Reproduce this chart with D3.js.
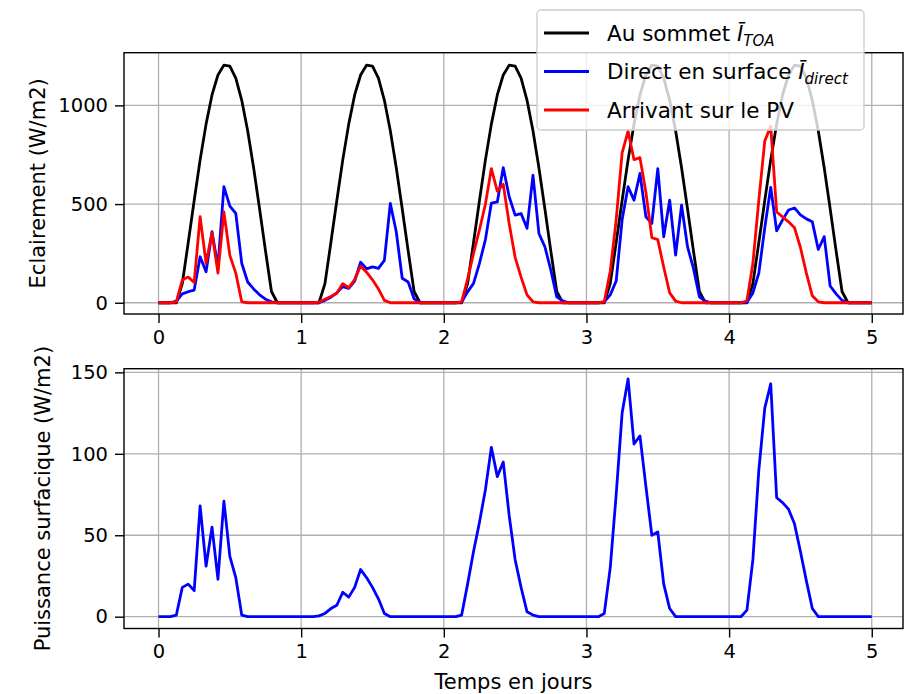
<!DOCTYPE html>
<html>
<head>
<meta charset="utf-8">
<script src="https://cdn.jsdelivr.net/npm/d3@7"></script>
<style>
  body { margin: 0; background: #fff; }
  text { font-family: "DejaVu Sans", sans-serif; }
</style>
</head>
<body>
<div id="chart"></div>
<script>
// hourly samples (24 per day), 5 days + last point at t = 5
const xTicks = [0, 1, 2, 3, 4, 5];
const yTicksTop = [0, 500, 1000];
const yTicksBottom = [0, 50, 100, 150];

// irradiance at top of atmosphere (W/m2)
const toa = [
  0,0,0,0,97,305,518,724,905,1053,1154,1204,1199,1138,1026,872,684,476,263,57,0,0,0,0,
  0,0,0,0,97,305,518,724,905,1053,1154,1204,1199,1138,1026,872,684,476,263,57,0,0,0,0,
  0,0,0,0,97,305,518,724,905,1053,1154,1204,1199,1138,1026,872,684,476,263,57,0,0,0,0,
  0,0,0,0,97,305,518,724,905,1053,1154,1204,1199,1138,1026,872,684,476,263,57,0,0,0,0,
  0,0,0,0,97,305,518,724,905,1053,1154,1204,1199,1138,1026,872,684,476,263,57,0,0,0,0,
  0
];
// direct at surface
const direct = [
  0,0,0,8,45,56,64,233,157,360,182,588,490,453,200,105,70,40,18,5,0,0,0,0,
  0,0,0,0,12,28,50,82,73,110,205,172,182,174,215,503,360,124,105,20,0,0,0,0,
  0,0,0,3,55,98,200,320,505,511,685,537,444,452,377,647,351,284,166,30,10,0,0,0,
  0,0,0,5,40,110,420,588,520,655,436,402,680,334,520,242,495,284,174,30,8,0,0,0,
  0,0,0,2,50,150,380,585,365,420,470,480,445,425,410,270,335,85,45,12,0,0,0,0,
  0
];
// arriving on the PV panel
const pv = [
  0,0,0,5,116,130,103,436,200,355,150,460,240,150,5,0,0,0,0,0,0,0,0,0,
  0,0,0,3,18,32,48,97,77,117,186,155,116,70,12,0,0,0,0,0,0,0,0,0,
  0,0,0,5,120,250,370,500,680,565,600,400,230,130,40,5,0,0,0,0,0,0,0,0,
  0,0,0,5,160,420,760,870,725,735,560,330,320,180,50,8,0,0,0,0,0,0,0,0,
  0,0,0,10,200,520,820,895,460,435,410,380,280,150,35,5,0,0,0,0,0,0,0,0,
  0
];
// surface power (W/m2)
const power = [
  0,0,0,1,18,20,16,68,31,55,23,71,37,24,1,0,0,0,0,0,0,0,0,0,
  0,0,0,0.5,2,5,7,15,12,18,29,24,18,11,2,0,0,0,0,0,0,0,0,0,
  0,0,0,1,20,40,58,78,104,86,95,62,35,18,3,1,0,0,0,0,0,0,0,0,
  0,0,0,2,30,75,125,146,106,111,80,50,52,20,5,0,0,0,0,0,0,0,0,0,
  0,0,0,4,35,90,128,143,73,70,66,57,40,22,5,0,0,0,0,0,0,0,0,0,
  0
];
const times = toa.map((d, i) => i / 24);

const width = 911, height = 694;
const left = 124, right = 903;
const tickFs = 19.5, labelFs = 21, legendFs = 21.5;

let svg = d3.select("#chart").append("svg")
  .attr("width", width).attr("height", height)
  .style("background", "#fff");

let x = d3.scaleLinear().domain([-0.242, 5.219]).range([left, right]);

function panel(id, top, bottom, yDomain, yTicks, label, labelX, series) {
  let y = d3.scaleLinear().domain(yDomain).range([bottom, top]);
  let g = svg.append("g");

  // grid
  g.append("g")
    .selectAll("line.gx").data(xTicks).enter().append("line")
    .attr("x1", d => x(d)).attr("x2", d => x(d))
    .attr("y1", top).attr("y2", bottom)
    .attr("stroke", "#b0b0b0").attr("stroke-width", 1.3);
  g.append("g")
    .selectAll("line.gy").data(yTicks).enter().append("line")
    .attr("x1", left).attr("x2", right)
    .attr("y1", d => y(d)).attr("y2", d => y(d))
    .attr("stroke", "#b0b0b0").attr("stroke-width", 1.3);

  svg.append("clipPath").attr("id", "clip" + id)
    .append("rect").attr("x", left).attr("y", top)
    .attr("width", right - left).attr("height", bottom - top);

  let line = d3.line().x((d, i) => x(times[i])).y(d => y(d));
  series.forEach(s => {
    g.append("path")
      .attr("clip-path", `url(#clip${id})`)
      .attr("d", line(s.values))
      .attr("fill", "none")
      .attr("stroke", s.color)
      .attr("stroke-width", 2.8)
      .attr("stroke-linejoin", "round");
  });

  // frame
  g.append("rect")
    .attr("x", left).attr("y", top)
    .attr("width", right - left).attr("height", bottom - top)
    .attr("fill", "none").attr("stroke", "#000").attr("stroke-width", 1.4);

  let xAxis = g.append("g")
    .attr("transform", `translate(0,${bottom})`)
    .call(d3.axisBottom(x).tickValues(xTicks).tickFormat(d3.format("d")).tickSize(9).tickPadding(7));
  let yAxis = g.append("g")
    .attr("transform", `translate(${left},0)`)
    .call(d3.axisLeft(y).tickValues(yTicks).tickFormat(d3.format("d")).tickSize(9).tickPadding(7));
  [xAxis, yAxis].forEach(a => {
    a.select(".domain").remove();
    a.selectAll("line").attr("stroke", "#000").attr("stroke-width", 1.4);
    a.selectAll("text").attr("font-size", tickFs).attr("fill", "#000")
      .attr("font-family", "DejaVu Sans");
  });

  g.append("text")
    .attr("transform", `translate(${labelX},${(top + bottom) / 2}) rotate(-90)`)
    .attr("text-anchor", "middle").attr("dy", "0.35em")
    .attr("font-size", labelFs).text(label);
}

panel(1, 52.7, 314, [-57, 1267], yTicksTop, "Eclairement (W/m2)", 38, [
  { values: toa, color: "#000000" },
  { values: direct, color: "#0000ff" },
  { values: pv, color: "#ff0000" }
]);
panel(2, 368.7, 628.5, [-7.25, 152.25], yTicksBottom, "Puissance surfacique (W/m2)", 43, [
  { values: power, color: "#0000ff" }
]);

svg.append("text")
  .attr("x", (left + right) / 2).attr("y", 689)
  .attr("text-anchor", "middle").attr("font-size", labelFs)
  .text("Temps en jours");

// legend
const legendItems = [
  { label: "Au sommet ", sub: "TOA", color: "#000000" },
  { label: "Direct en surface ", sub: "direct", color: "#0000ff" },
  { label: "Arrivant sur le PV", sub: null, color: "#ff0000" }
];
let lg = svg.append("g");
lg.append("rect")
  .attr("x", 537).attr("y", 10).attr("width", 327).attr("height", 120)
  .attr("rx", 4).attr("fill", "#fff").attr("fill-opacity", 0.8)
  .attr("stroke", "#cccccc").attr("stroke-width", 1.3);
legendItems.forEach((d, i) => {
  let cy = 33 + i * 38.5;
  lg.append("line")
    .attr("x1", 544).attr("x2", 589).attr("y1", cy).attr("y2", cy)
    .attr("stroke", d.color).attr("stroke-width", 2.8);
  let t = lg.append("text")
    .attr("x", 607).attr("y", cy).attr("dy", "0.35em")
    .attr("font-size", legendFs).attr("fill", "#000");
  t.append("tspan").text(d.label);
  if (d.sub) {
    t.append("tspan").attr("font-style", "italic").text("\u012A");
    t.append("tspan").attr("font-style", "italic")
      .attr("font-size", legendFs * 0.7).attr("dy", 5).text(d.sub);
  }
});
</script>
</body>
</html>
